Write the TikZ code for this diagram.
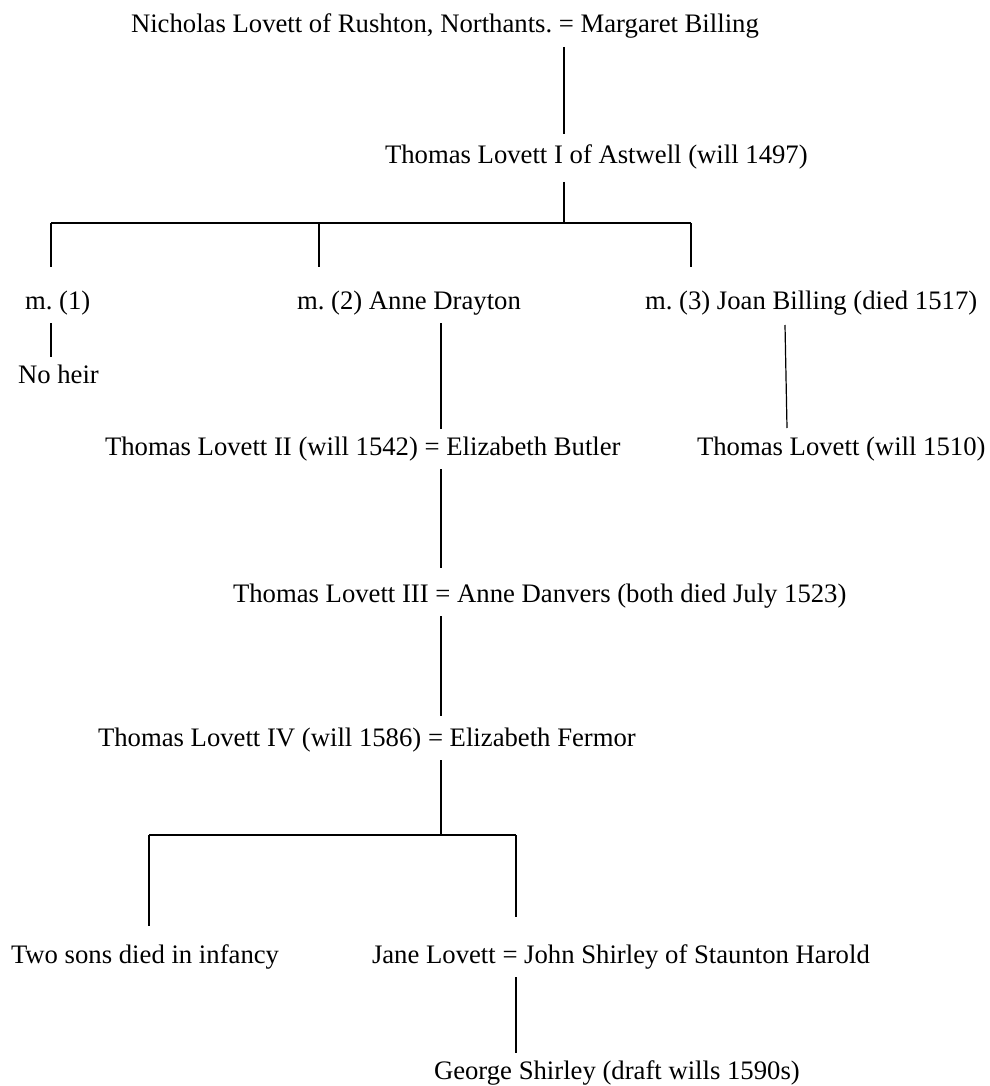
\documentclass[tikz,border=0pt]{standalone}
\usepackage{fontspec}
\setmainfont{Liberation Serif}
\usetikzlibrary{positioning, calc}

\tikzset{
    person/.style={anchor=west, inner sep=0pt, text height=18pt, text depth=6pt, outer xsep=0pt, outer ysep=8pt, font=\fontsize{26.7}{30}\selectfont},
    link/.style={line width=1.2pt}
}
\frenchspacing

\begin{document}
\begin{tikzpicture}[x=1pt,y=-1pt]
            \useasboundingbox (0,0) rectangle (989,1086);
            \node[person] (nicholas) at (131,27) {Nicholas Lovett of Rushton, Northants. = Margaret Billing};
            \node[person] (thomasI) at (385,158) {Thomas Lovett I of Astwell (will 1497)};
            \node[person] (mone) at (25,303) {m. (1)};
            \node[person] (mtwo) at (297,303) {m. (2) Anne Drayton};
            \node[person] (mthree) at (645,303) {m. (3) Joan Billing (died 1517)};
            \node[person] (noheir) at (18,377) {No heir};
            \node[person] (thomasII) at (105,449) {Thomas Lovett II (will 1542) = Elizabeth Butler};
            \node[person] (thomasJ) at (697,449) {Thomas Lovett (will 1510)};
            \node[person] (thomasIII) at (233,596) {Thomas Lovett III = Anne Danvers (both died July 1523)};
            \node[person] (thomasIV) at (98,740) {Thomas Lovett IV (will 1586) = Elizabeth Fermor};
            \node[person] (twosons) at (11,957) {Two sons died in infancy};
            \node[person] (jane) at (372,957) {Jane Lovett = John Shirley of Staunton Harold};
            \node[person] (george) at (434,1073) {George Shirley (draft wills 1590s)};
            \coordinate (topjoin) at (564,223);
            \coordinate (barleft) at (51,223);
            \coordinate (barmid) at (319,223);
            \coordinate (barright) at (691,223);
            \coordinate (joanup) at (785,325);
            \coordinate (joandown) at (787,428);
            \coordinate (lowjoin) at (441,835);
            \coordinate (lowleft) at (149,835);
            \coordinate (lowright) at (516,835);
            \draw[link,shorten >=4pt] (nicholas.south -| topjoin)--(thomasI.north -| topjoin);
            \draw[link,shorten <=4pt] (thomasI.south -| topjoin)--(topjoin);
            \draw[link] (barleft)--(barright);
            \draw[link,shorten >=16pt] (barleft)--(mone.north -| barleft);
            \draw[link,shorten >=16pt] (barmid)--(mtwo.north -| barmid);
            \draw[link,shorten >=16pt] (barright)--(mthree.north -| barright);
            \draw[link] (mone.south -| barleft)--(noheir.north -| barleft);
            \draw[link] (mtwo.south -| lowjoin)--(thomasII.north -| lowjoin);
            \draw[link] (joanup)--(joandown);
            \draw[link,shorten >=8pt] (thomasII.south -| lowjoin)--(thomasIII.north -| lowjoin);
            \draw[link,shorten >=4pt] (thomasIII.south -| lowjoin)--(thomasIV.north -| lowjoin);
            \draw[link] (thomasIV.south -| lowjoin)--(lowjoin);
            \draw[link] (lowleft)--(lowright);
            \draw[link,shorten >=11pt] (lowleft)--(twosons.north -| lowleft);
            \draw[link,shorten >=20pt] (lowright)--(jane.north -| lowright);
            \draw[link] (jane.south -| lowright)--(george.north -| lowright);
\end{tikzpicture}
\end{document}
